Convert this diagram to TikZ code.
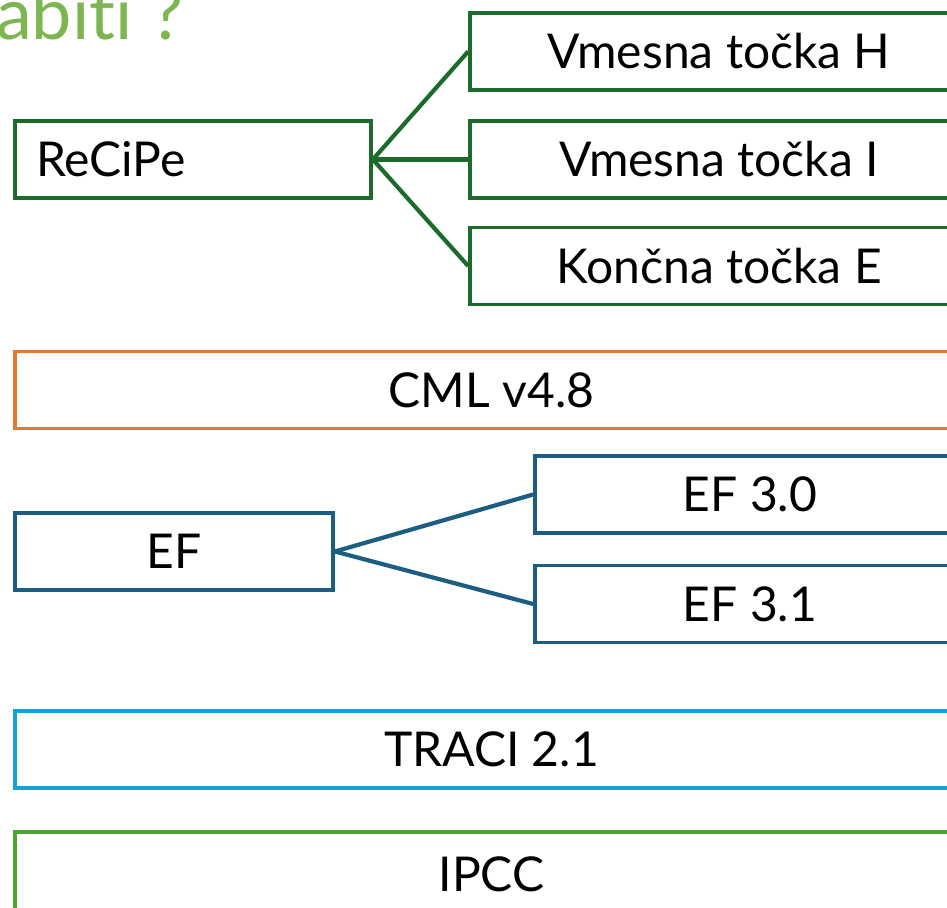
\documentclass[tikz,border=0pt]{standalone}
\usepackage{fontspec}
\setmainfont[Ligatures={NoCommon}]{Lato}
\definecolor{titlegreen}{HTML}{7DB550}
\definecolor{dkgreen}{HTML}{1D6B2A}
\definecolor{orng}{HTML}{E8762D}
\definecolor{dkblue}{HTML}{1B5E82}
\definecolor{ltblue}{HTML}{18A0D8}
\definecolor{grn}{HTML}{4DA334}
\begin{document}
\begin{tikzpicture}[x=1pt,y=-1pt,
  box/.style={draw, line width=3.7pt, rectangle, minimum height=77pt, inner sep=0pt,
    font=\fontsize{48}{52}\selectfont, text=black},
  conn/.style={line width=4.2pt}]
\useasboundingbox (0,0) rectangle (947,907);
\clip (0,0) rectangle (947,907);
\node[anchor=base west, text=titlegreen, font=\fontsize{72}{76}\selectfont, inner sep=0pt] (title) at (-4,40) {abiti ?};
% ReCiPe group
\node[box, draw=dkgreen, text width=314pt, inner xsep=21pt, align=left] (recipe) at (193,159.5) {ReCiPe};
\node[box, draw=dkgreen, minimum width=498pt] (h) at (719,51.5) {Vmesna točka H};
\node[box, draw=dkgreen, minimum width=498pt] (i) at (719,159.5) {Vmesna točka I};
\node[box, draw=dkgreen, minimum width=498pt] (e) at (719,266) {Končna točka E};
\draw[conn, dkgreen] (recipe.east) -- (h.west);
\draw[conn, dkgreen] (recipe.east) -- (i.west);
\draw[conn, dkgreen] (recipe.east) -- (e.west);
% CML
\node[box, draw=orng, minimum width=953pt] (cml) at (491.5,390) {CML v4.8};
% EF group
\node[box, draw=dkblue, minimum width=318pt] (ef) at (174,551.5) {EF};
\node[box, draw=dkblue, minimum width=430pt] (ef30) at (750,494.5) {EF 3.0};
\node[box, draw=dkblue, minimum width=430pt] (ef31) at (750,604) {EF 3.1};
\draw[conn, dkblue] (ef.east) -- (ef30.west);
\draw[conn, dkblue] (ef.east) -- (ef31.west);
% TRACI
\node[box, draw=ltblue, minimum width=953pt] (traci) at (491.5,749.5) {TRACI 2.1};
% IPCC
\node[box, draw=grn, minimum width=953pt, minimum height=84pt] (ipcc) at (491.5,874) {IPCC};
\end{tikzpicture}
\end{document}
